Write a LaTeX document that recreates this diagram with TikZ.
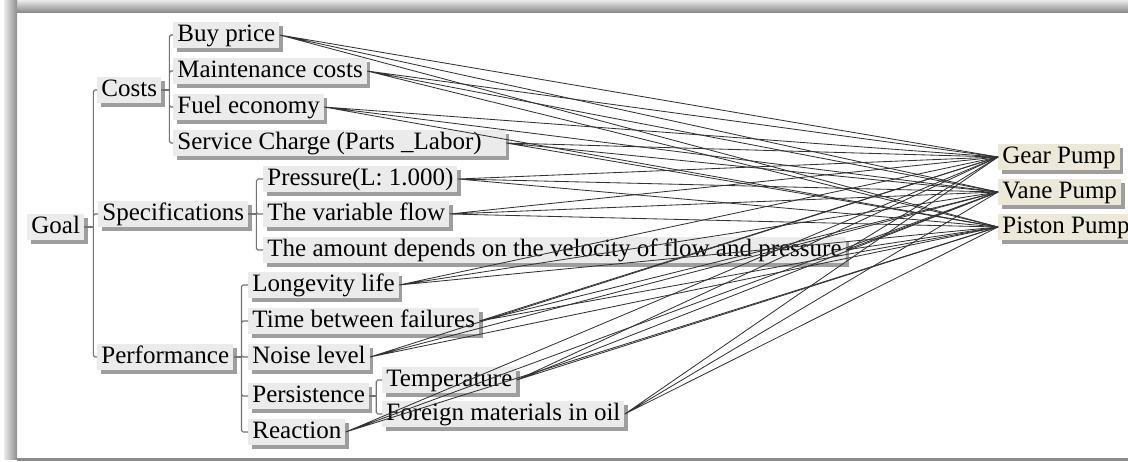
\documentclass[tikz,border=0pt]{standalone}
\usepackage{fontspec}
\setmainfont{Liberation Serif}
\usetikzlibrary{shadows}
\definecolor{altfill}{HTML}{ECE9D8}
\tikzset{crit/.style={anchor=west, fill=black!8, inner xsep=2pt, inner ysep=0pt,
    minimum height=13pt, text height=9pt, text depth=3pt,
    font=\fontsize{12.5}{14}\selectfont,
    drop shadow={shadow xshift=1.8pt, shadow yshift=-1.8pt, fill=black!38, opacity=1}}}
\tikzset{alt/.style={crit, fill=altfill}}
\tikzset{tree/.style={draw=black!55, line width=0.55pt, rounded corners=0.8pt}}
\tikzset{link/.style={draw=black!80, line width=0.42pt}}

\begin{document}
\begin{tikzpicture}[x=0.5pt, y=-0.5pt]
    \useasboundingbox (0,0) rectangle (1128,461);
    % frame
    \shade[top color=black!8, bottom color=black!45] (4,0) rectangle (1128,12);
    \shade[left color=black!8, right color=black!45] (4,0) rectangle (17,459);
    \draw[black!45, line width=1.5] (17,459) -- (1128,459);
    % goal and criteria
    \node[crit] (goal) at (27,227) {Goal};
    \node[crit] (costs) at (97,90) {Costs};
    \node[crit] (spec) at (98,214) {Specifications};
    \node[crit] (perf) at (97,357) {Performance};
    \node[crit] (buy) at (173,35) {Buy price};
    \node[crit] (maint) at (173,71) {Maintenance costs};
    \node[crit] (fuel) at (173,107) {Fuel economy};
    \node[crit] (serv) at (173,143) {Service Charge (Parts \_Labor)\rule{10pt}{0pt}};
    \node[crit] (press) at (263,179) {Pressure(L: 1.000)};
    \node[crit] (flow) at (263,214) {The variable flow};
    \node[crit] (amount) at (263,250) {The amount depends on the velocity of flow and pressure};
    \node[crit] (life) at (248,285) {Longevity life};
    \node[crit] (fail) at (248,321) {Time between failures};
    \node[crit] (noise) at (248,357) {Noise level};
    \node[crit] (persist) at (248,396) {Persistence};
    \node[crit] (temp) at (382,380) {Temperature};
    \node[crit] (oil) at (382,414) {Foreign materials in oil};
    \node[crit] (react) at (248,432) {Reaction};
    % alternatives
    \node[alt] (gear) at (998,157) {Gear Pump};
    \node[alt] (vane) at (998,192) {Vane Pump};
    \node[alt] (piston) at (998,227) {Piston Pump};
    % hierarchy
    \draw[tree] (goal.east) -- ++(9,0) coordinate (gj);
    \draw[tree] (costs.west) -| (gj) |- (perf.west) (gj) |- (spec.west);
    \draw[tree] (costs.east) -- ++(8,0) coordinate (cj);
    \draw[tree] (buy.west) -| (cj) |- (serv.west) (cj) |- (maint.west) (cj) |- (fuel.west);
    \draw[tree] (spec.east) -- ++(8,0) coordinate (sj);
    \draw[tree] (press.west) -| (sj) |- (amount.west) (sj) |- (flow.west);
    \draw[tree] (perf.east) -- ++(8,0) coordinate (pj);
    \draw[tree] (life.west) -| (pj) |- (react.west) (pj) |- (fail.west) (pj) |- (noise.west) (pj) |- (persist.west);
    \draw[tree] (persist.east) -- ++(7,0) coordinate (tj);
    \draw[tree] (temp.west) -| (tj) |- (oil.west);
    % links to alternatives
    \draw[link] (buy.east) -- (gear.west) (buy.east) -- (vane.west) (buy.east) -- (piston.west);
    \draw[link] (maint.east) -- (gear.west) (maint.east) -- (vane.west) (maint.east) -- (piston.west);
    \draw[link] (fuel.east) -- (gear.west) (fuel.east) -- (vane.west) (fuel.east) -- (piston.west);
    \draw[link] (serv.east) -- (gear.west) (serv.east) -- (vane.west) (serv.east) -- (piston.west);
    \draw[link] (press.east) -- (gear.west) (press.east) -- (vane.west) (press.east) -- (piston.west);
    \draw[link] (flow.east) -- (gear.west) (flow.east) -- (vane.west) (flow.east) -- (piston.west);
    \draw[link] (amount.east) -- (gear.west) (amount.east) -- (vane.west) (amount.east) -- (piston.west);
    \draw[link] (life.east) -- (gear.west) (life.east) -- (vane.west) (life.east) -- (piston.west);
    \draw[link] (fail.east) -- (gear.west) (fail.east) -- (vane.west) (fail.east) -- (piston.west);
    \draw[link] (noise.east) -- (gear.west) (noise.east) -- (vane.west) (noise.east) -- (piston.west);
    \draw[link] (temp.east) -- (gear.west) (temp.east) -- (vane.west) (temp.east) -- (piston.west);
    \draw[link] (oil.east) -- (gear.west) (oil.east) -- (vane.west) (oil.east) -- (piston.west);
    \draw[link] (react.east) -- (gear.west) (react.east) -- (vane.west) (react.east) -- (piston.west);
\end{tikzpicture}
\end{document}
